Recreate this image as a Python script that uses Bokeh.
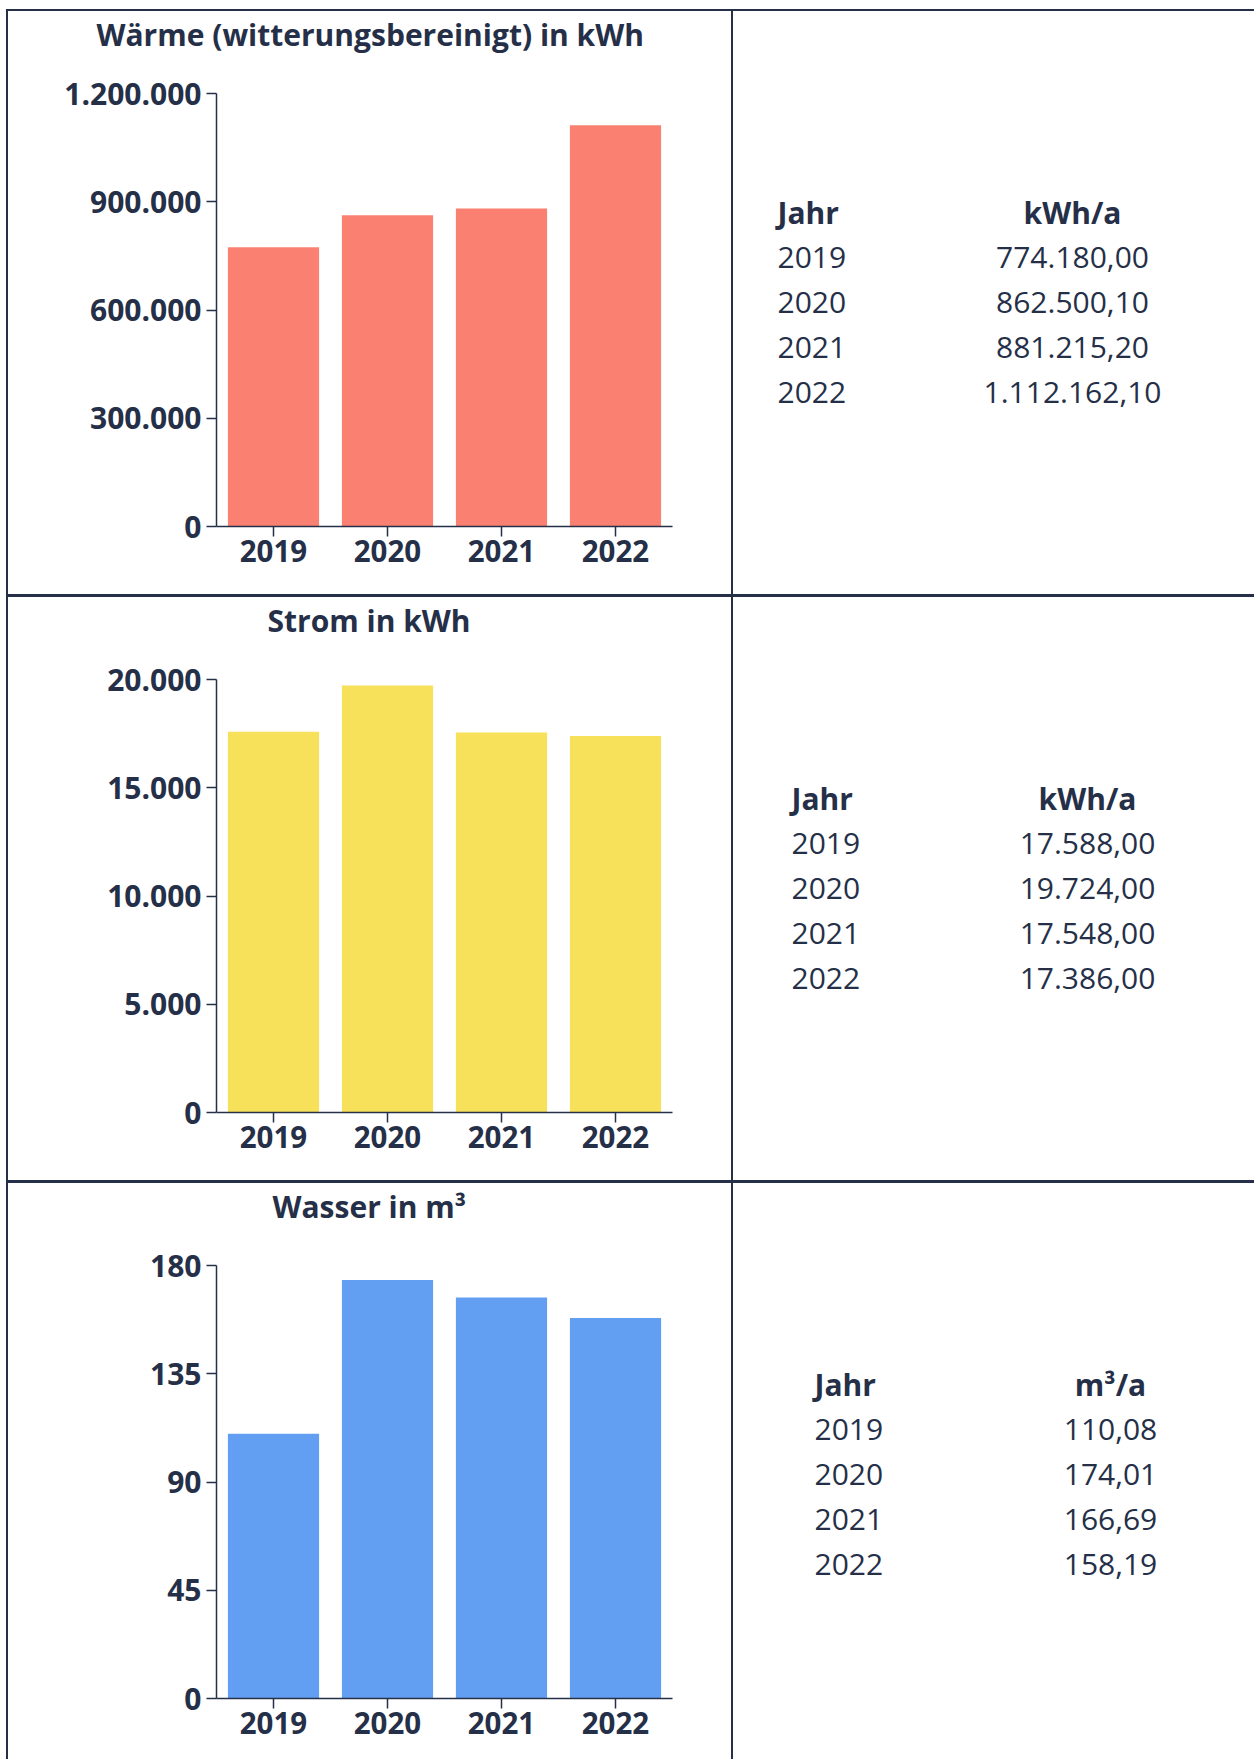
from bokeh.plotting import figure
from bokeh.layouts import column, row
from bokeh.models import Range1d, FactorRange, FixedTicker, Div, ColumnDataSource, Title
from bokeh.embed import file_html
from bokeh.resources import INLINE
from bokeh.core.properties import value

# ---------------- data ----------------
years = ["2019", "2020", "2021", "2022"]

waerme_kwh = [774180.00, 862500.10, 881215.20, 1112162.10]
strom_kwh = [17588.00, 19724.00, 17548.00, 17386.00]
wasser_m3 = [110.08, 174.01, 166.69, 158.19]

waerme_ticks = [0, 300000, 600000, 900000, 1200000]
waerme_tick_labels = ["0", "300.000", "600.000", "900.000", "1.200.000"]
strom_ticks = [0, 5000, 10000, 15000, 20000]
strom_tick_labels = ["0", "5.000", "10.000", "15.000", "20.000"]
wasser_ticks = [0, 45, 90, 135, 180]
wasser_tick_labels = ["0", "45", "90", "135", "180"]

titles = ["Wärme (witterungsbereinigt) in kWh", "Strom in kWh", "Wasser in m³"]
table_header_year = "Jahr"
table_units = ["kWh/a", "kWh/a", "m³/a"]

# ---------------- style / layout ----------------
INK = "#253048"
BAR_COLORS = ["#FA8072", "#F7E05A", "#629FF2"]
FONT = "Open Sans"
FS_Y = "30px"
FS_X = "29.5px"
FS_TAB = "30px"
FS_TITLE = "30px"

LEFT_PAD = 6
LINE_W = 2
CHART_W = 723
TABLE_W = 521
FULL_W = LINE_W + CHART_W + LINE_W + TABLE_W  # 1248
FRAME_TOP = 82
FRAME_H = 433
BORDER_L = 208
BORDER_R = CHART_W - BORDER_L - 456
FRAME_LEFT_PAGE = LEFT_PAD + LINE_W + BORDER_L
TITLE_GAP = 36


def de_format(v, decimals=2):
    s = f"{v:,.{decimals}f}"
    return s.replace(",", "X").replace(".", ",").replace("X", ".")


def line_div(w, h, margin=0):
    return Div(width=w, height=h, margin=margin,
               styles={"background-color": INK})


def chart(title, title_left, vals, ticks, tick_labels, color, h):
    p = figure(x_range=FactorRange(factors=years, range_padding=0),
               y_range=Range1d(0, ticks[-1]),
               width=CHART_W, height=h, title=title,
               min_border_left=BORDER_L, min_border_right=BORDER_R,
               min_border_top=FRAME_TOP, min_border_bottom=h - FRAME_TOP - FRAME_H,
               toolbar_location=None, tools="", output_backend="svg",
               background_fill_color="white", border_fill_color="white")
    p.outline_line_color = None
    p.xgrid.visible = False
    p.ygrid.visible = False
    src = ColumnDataSource(dict(year=years, v=vals))
    p.vbar(x="year", top="v", width=0.8, source=src, fill_color=color, line_color=None)

    for ax in (p.xaxis[0], p.yaxis[0]):
        ax.axis_line_color = INK
        ax.axis_line_width = 1.5
        ax.major_tick_line_color = INK
        ax.major_tick_line_width = 1.5
        ax.major_tick_out = 10
        ax.major_tick_in = 0
        ax.minor_tick_line_color = None
        ax.major_label_text_font = FONT
        ax.major_label_text_font_style = "bold"
        ax.major_label_text_color = INK
    p.yaxis.major_label_text_font_size = FS_Y
    p.xaxis.major_label_text_font_size = FS_X
    p.yaxis.ticker = FixedTicker(ticks=ticks)
    p.yaxis.major_label_overrides = {t: lab for t, lab in zip(ticks, tick_labels)}
    p.yaxis.major_label_standoff = 5
    p.xaxis.major_label_standoff = 3

    # blank spacer panel between the title and the plot area
    p.add_layout(Title(text=" ", text_font_size="1px", standoff=TITLE_GAP,
                       text_color="white"), "above")

    p.title.align = "left"
    p.title.offset = title_left - FRAME_LEFT_PAGE
    p.title.standoff = 0
    p.title.text_font = FONT
    p.title.text_font_size = FS_TITLE
    p.title.text_font_style = "bold"
    p.title.text_color = INK
    return p


def table(unit, vals, decimals, h, x_year, x_val):
    bottom = h - FRAME_TOP - FRAME_H
    t = figure(width=TABLE_W, height=h,
               x_range=Range1d(0, TABLE_W), y_range=Range1d(FRAME_TOP + FRAME_H, FRAME_TOP),
               min_border_left=0, min_border_right=0,
               min_border_top=FRAME_TOP, min_border_bottom=bottom,
               toolbar_location=None, tools="", output_backend="svg",
               x_axis_location=None, y_axis_location=None,
               background_fill_color="white", border_fill_color="white")
    t.outline_line_color = None
    t.grid.visible = False
    head_y = 201
    row_y = [head_y + 45 * (i + 1) for i in range(len(years))]
    common = dict(text_font=value(FONT), text_font_size=FS_TAB, text_color=INK,
                  text_baseline="middle")
    t.text(x=[x_year], y=[head_y], text=[table_header_year], text_align="left",
           text_font_style="bold", **common)
    t.text(x=[x_val], y=[head_y], text=[unit], text_align="center",
           text_font_style="bold", **common)
    t.text(x=[x_year] * len(years), y=row_y, text=years, text_align="left", **common)
    t.text(x=[x_val] * len(years), y=row_y, text=[de_format(v, decimals) for v in vals],
           text_align="center", **common)
    return t


H1, H2, H3 = 583, 583, 576

c1 = chart(titles[0], 96, waerme_kwh, waerme_ticks, waerme_tick_labels, BAR_COLORS[0], H1)
c2 = chart(titles[1], 267, strom_kwh, strom_ticks, strom_tick_labels, BAR_COLORS[1], H2)
c3 = chart(titles[2], 272, wasser_m3, wasser_ticks, wasser_tick_labels, BAR_COLORS[2], H3)

t1 = table(table_units[0], waerme_kwh, 2, H1, 44, 339)
t2 = table(table_units[1], strom_kwh, 2, H2, 58, 354)
t3 = table(table_units[2], wasser_m3, 2, H3, 81, 377)


def vline(h, first=False):
    return line_div(LINE_W, h, margin=(0, 0, 0, LEFT_PAD) if first else 0)


layout = column(
    line_div(FULL_W, 2, margin=(9, 0, 0, LEFT_PAD)),
    row(vline(H1, True), c1, vline(H1), t1, spacing=0),
    line_div(FULL_W, 3, margin=(0, 0, 0, LEFT_PAD)),
    row(vline(H2, True), c2, vline(H2), t2, spacing=0),
    line_div(FULL_W, 3, margin=(0, 0, 0, LEFT_PAD)),
    row(vline(H3, True), c3, vline(H3), t3, spacing=0),
    spacing=0,
)

open("out.html", "w").write(file_html(layout, INLINE))
